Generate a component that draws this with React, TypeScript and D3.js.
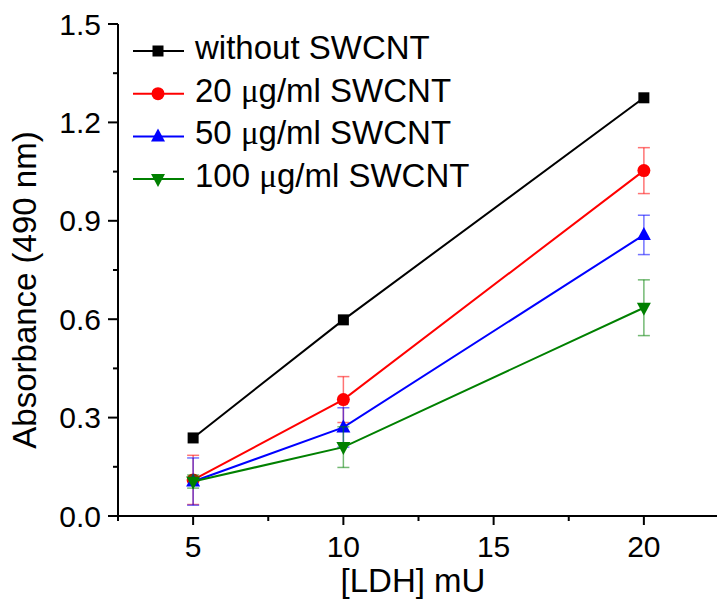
import React from 'react';
import * as d3 from 'd3';

const doses = [5, 10, 20];
const seriesNames = ['without SWCNT', '20 μg/ml SWCNT', '50 μg/ml SWCNT', '100 μg/ml SWCNT'];
const colors = ['#000000', '#ff0000', '#0000ff', '#008000'];
const symbols = ['square', 'circle', 'triangle', 'triangleDown'];
const without = [0.238, 0.598, 1.275];
const swcnt20 = [0.11, 0.355, 1.053];
const swcnt50 = [0.105, 0.27, 0.857];
const swcnt100 = [0.105, 0.21, 0.635];
const err20 = [0.075, 0.07, 0.07];
const err50 = [0.072, 0.06, 0.06];
const err100 = [0.02, 0.062, 0.085];
const xTicks = [5, 10, 15, 20];
const yTicks = [0, 0.3, 0.6, 0.9, 1.2, 1.5];

const values = [without, swcnt20, swcnt50, swcnt100];
const errors = [null, err20, err50, err100];

const font = '"Liberation Sans", Arial, sans-serif';

function Marker({kind, cx, cy, color}: {kind: string; cx: number; cy: number; color: string}) {
    if (kind === 'square') return <rect x={cx - 5.5} y={cy - 5.5} width={11} height={11} fill={color} />;
    if (kind === 'circle') return <circle cx={cx} cy={cy} r={6.5} fill={color} />;
    if (kind === 'triangle')
        return <path d={`M${cx},${cy - 8} L${cx + 7},${cy + 5} L${cx - 7},${cy + 5}Z`} fill={color} />;
    return <path d={`M${cx},${cy + 8} L${cx + 7},${cy - 5} L${cx - 7},${cy - 5}Z`} fill={color} />;
}

function Label({text}: {text: string}) {
    const parts = text.split('μ');
    if (parts.length === 1) return <>{text}</>;
    return <>{parts[0]}<tspan fontFamily='"Liberation Serif", serif'>μ</tspan>{parts[1]}</>;
}

export default function App() {
    const width = 717, height = 600;
    const x = d3.scaleLinear().domain([2.5, 22.5]).range([118, 719]);
    const y = d3.scaleLinear().domain([0, 1.5]).range([516, 24]);
    const line = d3.line<number>().x((_, i) => x(doses[i])).y(d => y(d));
    const xMinor = d3.range(2.5, 22.6, 2.5).filter(v => !xTicks.includes(v));
    const yMinor = d3.range(0.15, 1.5, 0.3);

    return (
        <svg width={width} height={height} style={{position: 'absolute', left: 0, top: 0}} fontFamily={font}>
            {/* axes */}
            <line x1={x(2.5)} x2={x(22.5)} y1={516} y2={516} stroke="#000" strokeWidth={2} />
            <line x1={118} x2={118} y1={y(1.5)} y2={517} stroke="#000" strokeWidth={2} />
            {xTicks.map(t => (
                <g key={t}>
                    <line x1={x(t)} x2={x(t)} y1={516} y2={525} stroke="#000" strokeWidth={2} />
                    <text x={x(t)} y={557} textAnchor="middle" fontSize={30}>{t}</text>
                </g>
            ))}
            {xMinor.map(t => <line key={t} x1={x(t)} x2={x(t)} y1={516} y2={521} stroke="#000" strokeWidth={2} />)}
            {yTicks.map(t => (
                <g key={t}>
                    <line x1={108} x2={118} y1={y(t)} y2={y(t)} stroke="#000" strokeWidth={2} />
                    <text x={101} y={y(t) + 10.5} textAnchor="end" fontSize={30}>{t.toFixed(1)}</text>
                </g>
            ))}
            {yMinor.map(t => <line key={t} x1={113} x2={118} y1={y(t)} y2={y(t)} stroke="#000" strokeWidth={2} />)}
            <text x={413} y={592} textAnchor="middle" fontSize={33}>[LDH] mU</text>
            <text transform={`translate(36,290) rotate(-90)`} textAnchor="middle" fontSize={33}>Absorbance (490 nm)</text>

            {/* series */}
            {values.map((vals, s) => (
                <g key={s}>
                    <path d={line(vals) || ''} fill="none" stroke={colors[s]} strokeWidth={2} />
                    {errors[s] && vals.map((v, i) => {
                        const e = (errors[s] as number[])[i];
                        const cx = x(doses[i]);
                        return (
                            <g key={i} stroke={colors[s]} strokeOpacity={0.55} strokeWidth={1.5}>
                                <line x1={cx} x2={cx} y1={y(v - e)} y2={y(v + e)} />
                                <line x1={cx - 6} x2={cx + 6} y1={y(v - e)} y2={y(v - e)} />
                                <line x1={cx - 6} x2={cx + 6} y1={y(v + e)} y2={y(v + e)} />
                            </g>
                        );
                    })}
                    {vals.map((v, i) => <Marker key={i} kind={symbols[s]} cx={x(doses[i])} cy={y(v)} color={colors[s]} />)}
                </g>
            ))}

            {/* legend */}
            {seriesNames.map((n, s) => {
                const ly = 51 + s * 42.7;
                return (
                    <g key={n}>
                        <line x1={133} x2={184} y1={ly} y2={ly} stroke={colors[s]} strokeWidth={2} />
                        <Marker kind={symbols[s]} cx={158} cy={ly} color={colors[s]} />
                        <text x={195} y={ly + 8} fontSize={33}><Label text={n} /></text>
                    </g>
                );
            })}
        </svg>
    );
}
